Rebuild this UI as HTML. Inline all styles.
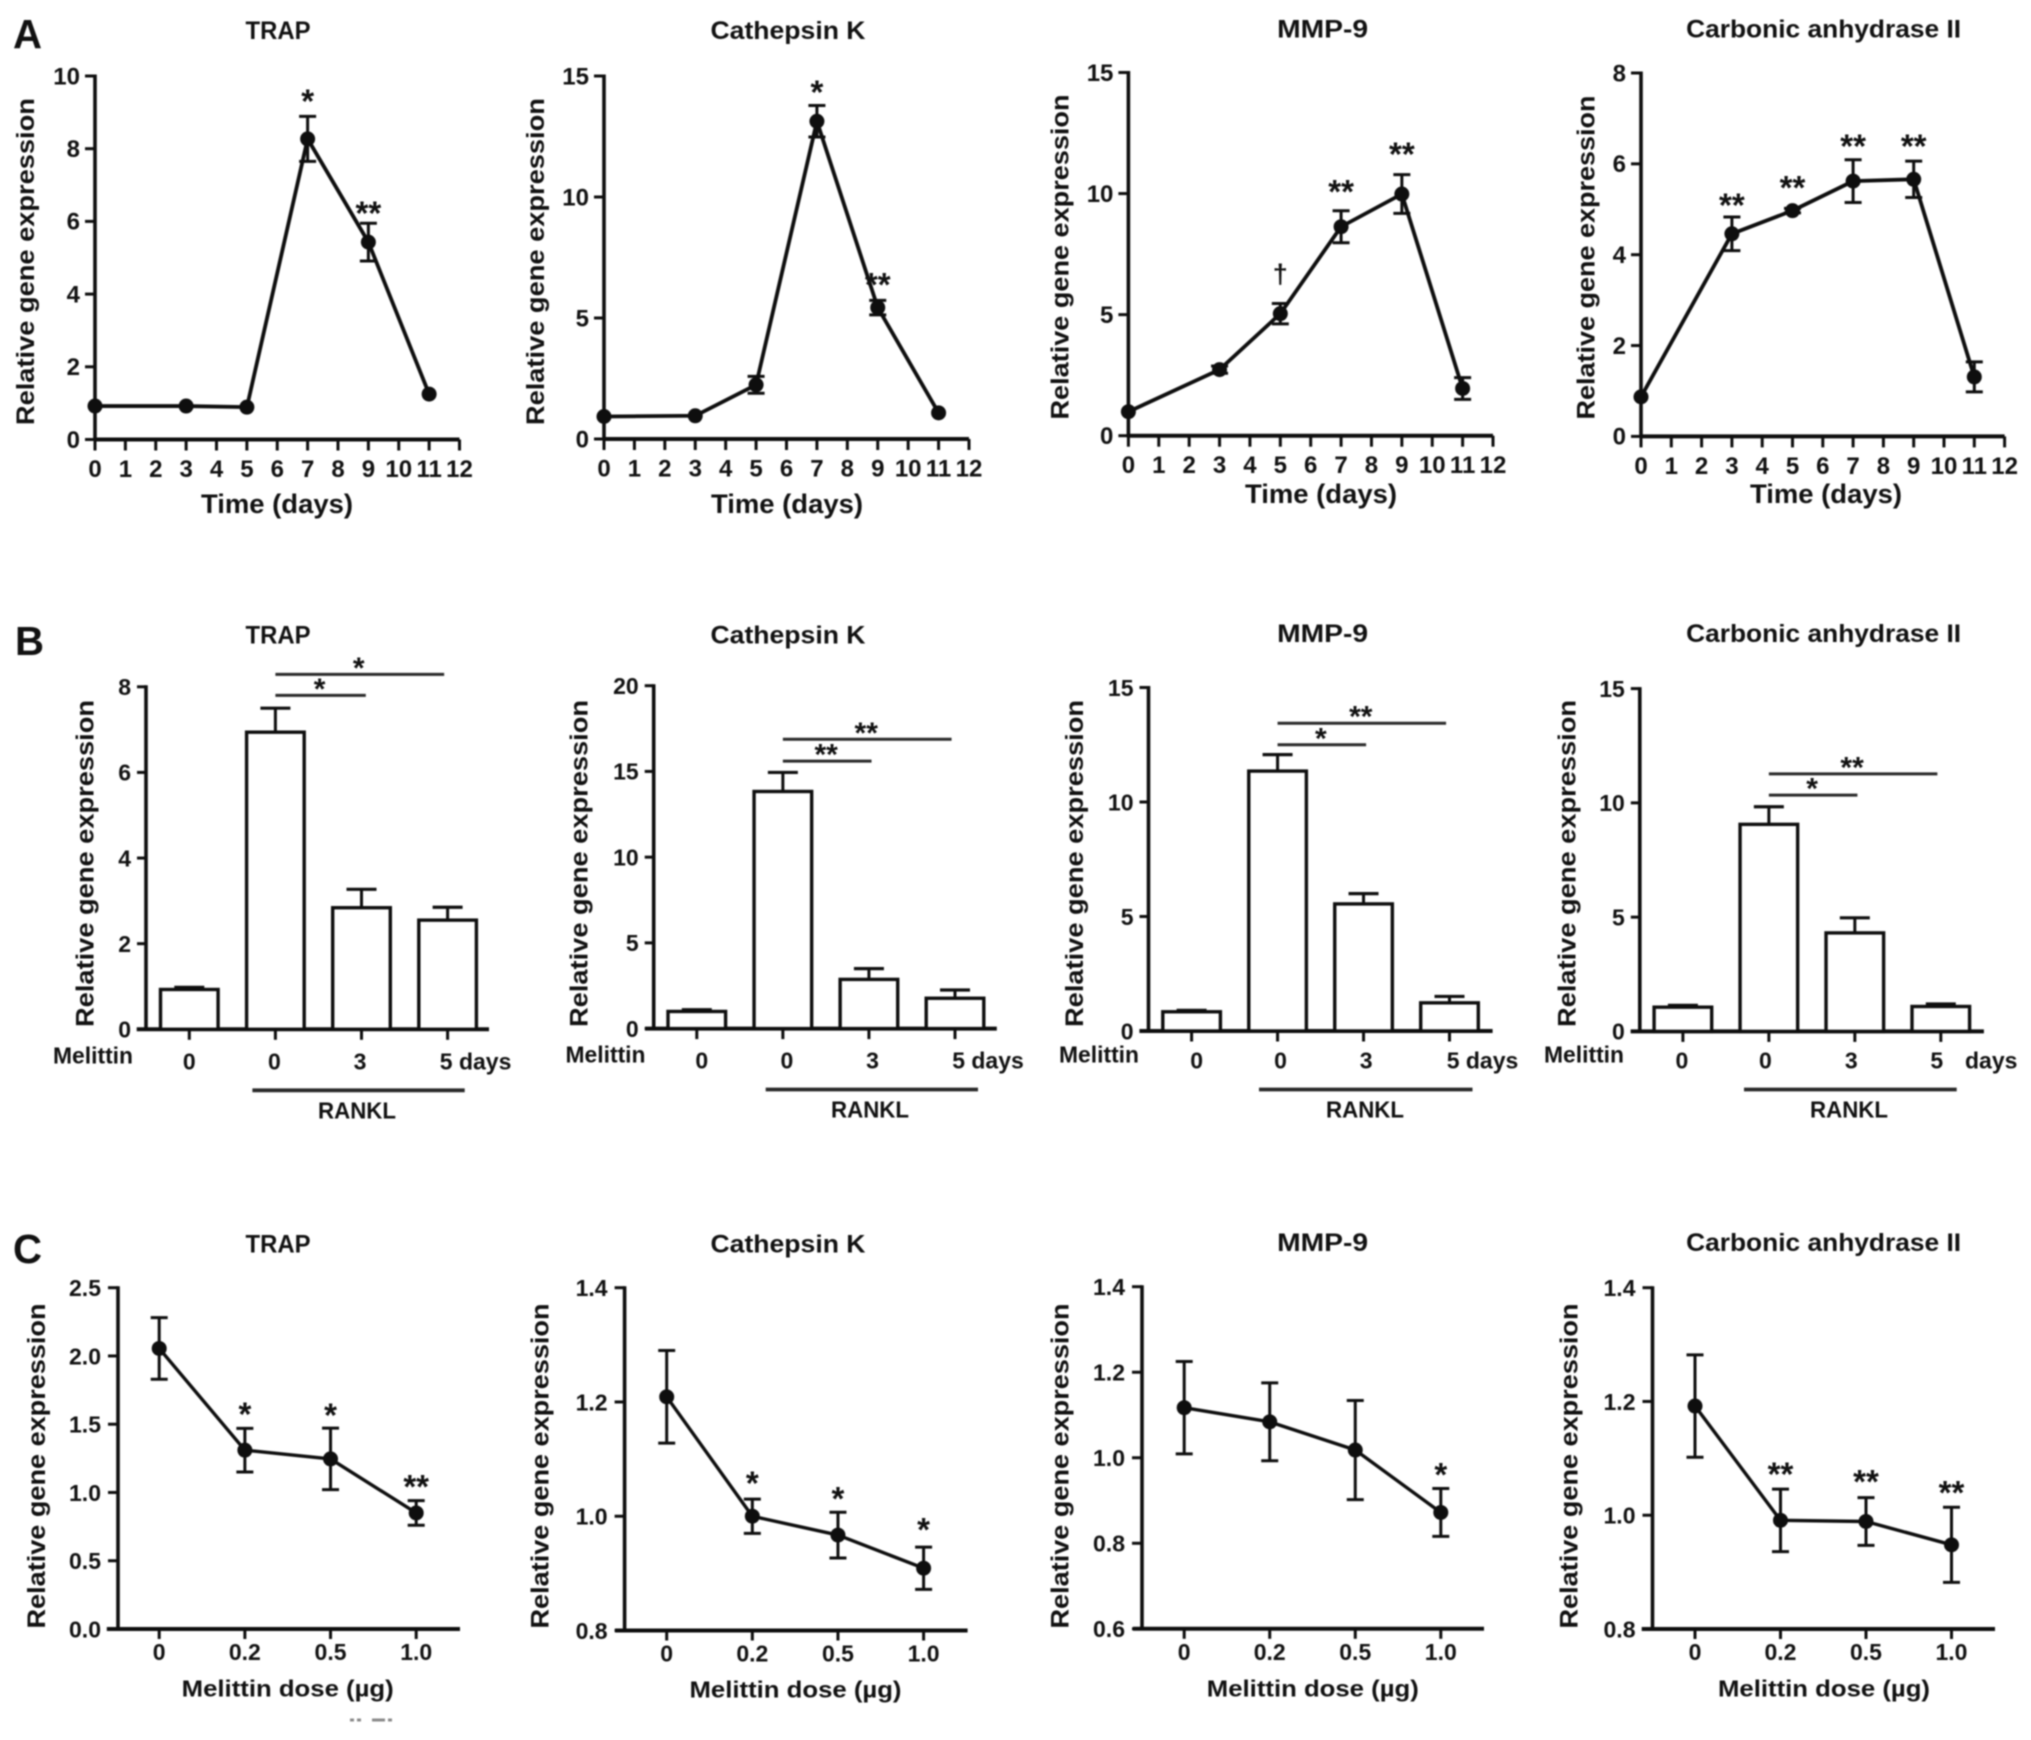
<!DOCTYPE html>
<html lang="en">
<head>
<meta charset="utf-8">
<title>Relative gene expression panels</title>
<style>
html,body{margin:0;padding:0;background:#fff;}
#figure{display:block;width:2031px;height:1740px;filter:blur(0.8px);}
text{font-family:"Liberation Sans",Arial,sans-serif;font-weight:700;fill:#111;}
</style>
</head>
<body>
<svg id="figure" xmlns="http://www.w3.org/2000/svg" width="2031" height="1740" viewBox="0 0 2031 1740"></svg>
<script>
/* ---------- Row A: time course data ---------- */
const timeDays = [0, 3, 5, 7, 9, 11];
const timeTickLabels = ['0','1','2','3','4','5','6','7','8','9','10','11','12'];

const timeTrapValues = [0.92, 0.92, 0.89, 8.27, 5.43, 1.25];
const timeTrapErrors = [0, 0, 0, 0.62, 0.52, 0];
const timeTrapTicks = ['0','2','4','6','8','10'];
const timeTrapSigIndex = [3, 4];
const timeTrapSigY = [9.43, 6.36];
const timeTrapSigLabels = ['*', '**'];

const timeCathValues = [0.93, 0.96, 2.24, 13.13, 5.43, 1.08];
const timeCathErrors = [0, 0, 0.35, 0.65, 0.3, 0];
const timeCathTicks = ['0','5','10','15'];
const timeCathSigIndex = [3, 4];
const timeCathSigY = [14.53, 6.56];
const timeCathSigLabels = ['*', '**'];

const timeMmpValues = [0.99, 2.73, 5.04, 8.63, 9.98, 1.95];
const timeMmpErrors = [0, 0.15, 0.42, 0.66, 0.8, 0.45];
const timeMmpTicks = ['0','5','10','15'];
const timeMmpSigIndex = [2, 3, 4];
const timeMmpSigY = [6.64, 10.28, 11.83];
const timeMmpSigLabels = ['\u2020', '**', '**'];

const timeCarbValues = [0.87, 4.46, 4.97, 5.62, 5.66, 1.31];
const timeCarbErrors = [0, 0.37, 0.05, 0.47, 0.4, 0.33];
const timeCarbTicks = ['0','2','4','6','8'];
const timeCarbSigIndex = [1, 2, 3, 4];
const timeCarbSigY = [5.19, 5.58, 6.49, 6.49];
const timeCarbSigLabels = ['**', '**', '**', '**'];

/* ---------- Row B: bar data ---------- */
const barTrapValues = [0.93, 6.94, 2.84, 2.55];
const barTrapErrors = [0.05, 0.56, 0.43, 0.30];
const barTrapTicks = ['0','2','4','6','8'];
const barTrapCategories = ['0','0','3','5 days'];
const barTrapSigTo = [2.05, 2.96];
const barTrapSigY = [7.8, 8.29];
const barTrapSigLabels = ['*', '*'];

const barCathValues = [1.0, 13.83, 2.87, 1.77];
const barCathErrors = [0.1, 1.11, 0.63, 0.48];
const barCathTicks = ['0','5','10','15','20'];
const barCathCategories = ['0','0','3','5 days'];
const barCathSigTo = [2.03, 2.96];
const barCathSigY = [15.6, 16.875];
const barCathSigLabels = ['**', '**'];

const barMmpValues = [0.84, 11.35, 5.55, 1.23];
const barMmpErrors = [0.06, 0.72, 0.45, 0.28];
const barMmpTicks = ['0','5','10','15'];
const barMmpCategories = ['0','0','3','5 days'];
const barMmpSigTo = [2.03, 2.96];
const barMmpSigY = [12.5, 13.44];
const barMmpSigLabels = ['*', '**'];

const barCarbValues = [1.06, 9.06, 4.31, 1.09];
const barCarbErrors = [0.08, 0.77, 0.66, 0.11];
const barCarbTicks = ['0','5','10','15'];
const barCarbCategories = ['0','0','3','5'];
const barCarbSigTo = [2.03, 2.96];
const barCarbSigY = [10.34, 11.27];
const barCarbSigLabels = ['*', '**'];

/* ---------- Row C: dose data ---------- */
const doseCategories = ['0','0.2','0.5','1.0'];

const doseTrapValues = [2.055, 1.31, 1.246, 0.85];
const doseTrapErrors = [0.226, 0.16, 0.225, 0.09];
const doseTrapTicks = ['0.0','0.5','1.0','1.5','2.0','2.5'];
const doseTrapSigIndex = [1, 2, 3];
const doseTrapSigY = [1.608, 1.6, 1.078];
const doseTrapSigLabels = ['*', '*', '**'];

const doseCathValues = [1.209, 1.0, 0.967, 0.909];
const doseCathErrors = [0.081, 0.03, 0.04, 0.037];
const doseCathTicks = ['0.8','1.0','1.2','1.4'];
const doseCathSigIndex = [1, 2, 3];
const doseCathSigY = [1.066, 1.039, 0.985];
const doseCathSigLabels = ['*', '*', '*'];

const doseMmpValues = [1.117, 1.084, 1.018, 0.872];
const doseMmpErrors = [0.108, 0.091, 0.116, 0.056];
const doseMmpTicks = ['0.6','0.8','1.0','1.2','1.4'];
const doseMmpSigIndex = [3];
const doseMmpSigY = [0.971];
const doseMmpSigLabels = ['*'];

const doseCarbValues = [1.192, 0.991, 0.989, 0.948];
const doseCarbErrors = [0.09, 0.055, 0.042, 0.066];
const doseCarbTicks = ['0.8','1.0','1.2','1.4'];
const doseCarbSigIndex = [1, 2, 3];
const doseCarbSigY = [1.08, 1.067, 1.048];
const doseCarbSigLabels = ['**', '**', '**'];

/* ---------- Drawing primitives ---------- */
const NS = 'http://www.w3.org/2000/svg';
const INK = '#0e0e0e';
const root = document.getElementById('figure');

function addLine(parent, x1, y1, x2, y2, w, color) {
  const l = document.createElementNS(NS, 'line');
  l.setAttribute('x1', x1);
  l.setAttribute('y1', y1);
  l.setAttribute('x2', x2);
  l.setAttribute('y2', y2);
  l.setAttribute('stroke', color || INK);
  l.setAttribute('stroke-width', w);
  parent.appendChild(l);
  return l;
}

function addText(parent, str, x, y, size, anchor, length, rotate) {
  const t = document.createElementNS(NS, 'text');
  t.textContent = str;
  t.setAttribute('x', x);
  t.setAttribute('y', y);
  t.setAttribute('font-size', size);
  t.setAttribute('text-anchor', anchor || 'middle');
  if (length) {
    t.setAttribute('textLength', length);
    t.setAttribute('lengthAdjust', 'spacingAndGlyphs');
  }
  if (rotate) t.setAttribute('transform', 'rotate(-90 ' + x + ' ' + y + ')');
  parent.appendChild(t);
  return t;
}

function addGroup(parent) {
  const g = document.createElementNS(NS, 'g');
  parent.appendChild(g);
  return g;
}

function linearScale(d0, d1, r0, r1) {
  return function (v) { return r0 + (v - d0) / (d1 - d0) * (r1 - r0); };
}

/* Shared frame: y axis, y ticks, x axis, titles */
function drawFrame(g, c) {
  const nums = c.yTicks.map(Number);
  const y = linearScale(nums[0], nums[nums.length - 1], c.yBottom, c.yTop);

  const yAxis = addLine(g, c.axisX, c.yTop - 1.5, c.axisX, c.yBottom + 1.5, 3.6);
  
  

  const xAxis = addLine(g, c.xAxisStart, c.yBottom, c.xAxisEnd, c.yBottom, 4);
  
  

  c.yTicks.forEach(function (label) {
    const py = y(Number(label));
    const tick = addLine(g, c.axisX - c.tickLen, py, c.axisX, py, 3);
    
    
    const tl = addText(g, label, c.axisX - c.labelGap, py + 8.3, c.tickSize, 'end');
    
    
  });

  const title = addText(g, c.title, c.titleX, c.titleY, 25, 'middle', c.titleLen);
  
  

  const yTitle = addText(g, 'Relative gene expression', c.yTitleX - 1.5, c.yTitleMid, 25, 'middle', c.yTitleLen, true);
  
  

  if (c.xTitle) {
    const xTitle = addText(g, c.xTitle, c.xTitleX, c.xTitleY, c.xTitleSize, 'middle', c.xTitleLen);
    
    
  }
  return y;
}

function drawSeries(g, c, xOf, y) {
  const pts = c.values.map(function (v, i) { return xOf(i).toFixed(2) + ',' + y(v).toFixed(2); }).join(' ');
  const poly = document.createElementNS(NS, 'polyline');
  poly.setAttribute('points', pts);
  poly.setAttribute('fill', 'none');
  poly.setAttribute('stroke', INK);
  poly.setAttribute('stroke-width', c.lineWidth);
  poly.setAttribute('stroke-linejoin', 'round');
  
  
  g.appendChild(poly);

  c.values.forEach(function (v, i) {
    const px = xOf(i);
    const e = c.errors[i];
    if (e > 0) {
      const stem = addLine(g, px, y(v + e), px, y(v - e), 3);
      
      
      const capTop = addLine(g, px - 8.5, y(v + e), px + 8.5, y(v + e), 3);
      
      
      const capBottom = addLine(g, px - 8.5, y(v - e), px + 8.5, y(v - e), 3);
      
      
    }
    const dot = document.createElementNS(NS, 'circle');
    dot.setAttribute('cx', px);
    dot.setAttribute('cy', y(v));
    dot.setAttribute('r', 7.5);
    dot.setAttribute('fill', INK);
    
    
    g.appendChild(dot);
  });

  c.sigIndex.forEach(function (idx, k) {
    const label = c.sigLabels[k];
    const isDagger = label === '\u2020';
    const size = isDagger ? 27 : 33;
    const drop = isDagger ? 8 : 16;
    const mark = addText(g, label, xOf(idx), y(c.sigY[k]) + drop, size);
    
    
  });
}

function timePanel(c) {
  const g = addGroup(root);
  
  
  c.tickLen = 10;
  c.labelGap = 15;
  c.tickSize = 24;
  c.xTitle = 'Time (days)';
  c.xTitleSize = 27;
  c.xTitleLen = 152;
  c.xAxisStart = c.axisX - 1.5;
  c.xAxisEnd = c.xEnd;
  c.lineWidth = 3.8;
  const y = drawFrame(g, c);
  const xs = linearScale(0, 12, c.axisX, c.xEnd);
  timeTickLabels.forEach(function (label) {
    const px = xs(Number(label));
    const tick = addLine(g, px, c.yBottom, px, c.yBottom + 11, 3);
    
    
    const tl = addText(g, label, px, c.yBottom + 37.5, 24);
    
    
  });
  drawSeries(g, c, function (i) { return xs(timeDays[i]); }, y);
}

function dosePanel(c) {
  const g = addGroup(root);
  
  
  c.tickLen = 10;
  c.labelGap = 17;
  c.tickSize = 23;
  c.xTitle = 'Melittin dose (\u00b5g)';
  c.xTitleSize = 23;
  c.xTitleLen = 212;
  c.lineWidth = 3.4;
  const y = drawFrame(g, c);
  const xs = linearScale(0, doseCategories.length - 1, c.firstX, c.lastX);
  doseCategories.forEach(function (label, i) {
    const tick = addLine(g, xs(i), c.yBottom, xs(i), c.yBottom + 10, 3);
    
    
    const tl = addText(g, label, xs(i), c.yBottom + 31, 23);
    
    
  });
  drawSeries(g, c, xs, y);
}

function barPanel(c) {
  const g = addGroup(root);
  
  
  c.tickLen = 9;
  c.labelGap = 15;
  c.tickSize = 23;
  const y = drawFrame(g, c);
  const xs = linearScale(0, c.values.length - 1, c.firstX, c.lastX);
  const halfBar = 28.8;

  c.values.forEach(function (v, i) {
    const px = xs(i);
    const e = c.errors[i];
    const stem = addLine(g, px, y(v + e), px, y(v), 3);
    
    
    const cap = addLine(g, px - 15, y(v + e), px + 15, y(v + e), 3.2);
    
    

    const bar = document.createElementNS(NS, 'rect');
    bar.setAttribute('x', px - halfBar);
    bar.setAttribute('y', y(v));
    bar.setAttribute('width', halfBar * 2);
    bar.setAttribute('height', c.yBottom - y(v));
    bar.setAttribute('fill', '#fff');
    bar.setAttribute('stroke', INK);
    bar.setAttribute('stroke-width', 3.4);
    
    
    g.appendChild(bar);

    const tick = addLine(g, px, c.yBottom, px, c.yBottom + 10.5, 3);
    
    

    const label = addText(g, c.categories[i], px + c.labelDx[i], c.labelY, 23);
    
    
  });

  c.sigTo.forEach(function (to, k) {
    const py = y(c.sigY[k]);
    const x2 = xs(to);
    const rule = addLine(g, xs(1), py, x2, py, 3, '#2a2a2a');
    
    
    const mark = addText(g, c.sigLabels[k], (xs(1) + x2) / 2 - 1, py + 3.5, 30);
    
    
  });

  const melittin = addText(g, 'Melittin', c.melittinX, c.labelY - 6, 23, 'middle', 80);
  
  

  const ruleRankl = addLine(g, c.rankX1, c.labelY + 21, c.rankX2, c.labelY + 21, 3.8, '#2a2a2a');
  
  
  const rankl = addText(g, 'RANKL', c.rankTextX, c.labelY + 49, 23, 'middle', 78);
  
  

  if (c.unitX) {
    const unit = addText(g, 'days', c.unitX, c.labelY, 23, 'start');
    
    
  }
}

/* ---------- Panel letters ---------- */
[['A', 13, 48], ['B', 15, 655], ['C', 13, 1263]].forEach(function (p) {
  const letter = addText(root, p[0], p[1], p[2], 41, 'start', 29);
  
  
});

/* ---------- Row A ---------- */
timePanel({name:'time-trap-chart', title:'TRAP', titleX:278, titleY:39, titleLen:65,
  axisX:95, xEnd:459.5, yTop:76, yBottom:439.5, yTicks:timeTrapTicks,
  yTitleX:35.6, yTitleMid:261.6, yTitleLen:327, xTitleX:277, xTitleY:513,
  values:timeTrapValues, errors:timeTrapErrors, sigIndex:timeTrapSigIndex, sigY:timeTrapSigY, sigLabels:timeTrapSigLabels});
timePanel({name:'time-cathepsin-chart', title:'Cathepsin K', titleX:788, titleY:39, titleLen:155,
  axisX:604, xEnd:969, yTop:76, yBottom:439, yTicks:timeCathTicks,
  yTitleX:545.6, yTitleMid:261.6, yTitleLen:327, xTitleX:787, xTitleY:513,
  values:timeCathValues, errors:timeCathErrors, sigIndex:timeCathSigIndex, sigY:timeCathSigY, sigLabels:timeCathSigLabels});
timePanel({name:'time-mmp9-chart', title:'MMP-9', titleX:1322.6, titleY:37.5, titleLen:91,
  axisX:1128.4, xEnd:1493, yTop:72.5, yBottom:435.7, yTicks:timeMmpTicks,
  yTitleX:1070, yTitleMid:257, yTitleLen:325, xTitleX:1321, xTitleY:503,
  values:timeMmpValues, errors:timeMmpErrors, sigIndex:timeMmpSigIndex, sigY:timeMmpSigY, sigLabels:timeMmpSigLabels});
timePanel({name:'time-carbonic-chart', title:'Carbonic anhydrase II', titleX:1823.6, titleY:37.5, titleLen:275,
  axisX:1641, xEnd:2004.6, yTop:73, yBottom:436.4, yTicks:timeCarbTicks,
  yTitleX:1596, yTitleMid:257.5, yTitleLen:324, xTitleX:1826, xTitleY:503,
  values:timeCarbValues, errors:timeCarbErrors, sigIndex:timeCarbSigIndex, sigY:timeCarbSigY, sigLabels:timeCarbSigLabels});

/* ---------- Row B ---------- */
barPanel({name:'bar-trap-chart', title:'TRAP', titleX:278, titleY:643.6, titleLen:65,
  axisX:146, xAxisStart:136.7, xAxisEnd:489, yTop:686.8, yBottom:1029.3, yTicks:barTrapTicks,
  yTitleX:95, yTitleMid:863.5, yTitleLen:327, firstX:189.3, lastX:447.6,
  values:barTrapValues, errors:barTrapErrors, categories:barTrapCategories, labelDx:[0,-1,-1.5,28], labelY:1069.3,
  sigTo:barTrapSigTo, sigY:barTrapSigY, sigLabels:barTrapSigLabels,
  melittinX:93, rankX1:252.4, rankX2:464.7, rankTextX:357});
barPanel({name:'bar-cathepsin-chart', title:'Cathepsin K', titleX:788, titleY:643.6, titleLen:155,
  axisX:653.7, xAxisStart:645, xAxisEnd:996.8, yTop:685.7, yBottom:1028.6, yTicks:barCathTicks,
  yTitleX:589, yTitleMid:863.5, yTitleLen:327, firstX:696.8, lastX:955,
  values:barCathValues, errors:barCathErrors, categories:barCathCategories, labelDx:[5,4,3.6,33], labelY:1068.5,
  sigTo:barCathSigTo, sigY:barCathSigY, sigLabels:barCathSigLabels,
  melittinX:605.5, rankX1:765.7, rankX2:978, rankTextX:870});
barPanel({name:'bar-mmp9-chart', title:'MMP-9', titleX:1322.6, titleY:642, titleLen:91,
  axisX:1148.5, xAxisStart:1139.4, xAxisEnd:1492.6, yTop:687.5, yBottom:1031, yTicks:barMmpTicks,
  yTitleX:1084.3, yTitleMid:863.5, yTitleLen:327, firstX:1191.6, lastX:1449.5,
  values:barMmpValues, errors:barMmpErrors, categories:barMmpCategories, labelDx:[5,3,2.6,33], labelY:1068.5,
  sigTo:barMmpSigTo, sigY:barMmpSigY, sigLabels:barMmpSigLabels,
  melittinX:1099, rankX1:1259, rankX2:1472.5, rankTextX:1365});
barPanel({name:'bar-carbonic-chart', title:'Carbonic anhydrase II', titleX:1823.6, titleY:642, titleLen:275,
  axisX:1639.8, xAxisStart:1630.7, xAxisEnd:1983.9, yTop:688.6, yBottom:1031.4, yTicks:barCarbTicks,
  yTitleX:1577, yTitleMid:863.5, yTitleLen:327, firstX:1682.9, lastX:1940.8,
  values:barCarbValues, errors:barCarbErrors, categories:barCarbCategories, labelDx:[-1,-3.5,-3.5,-4], labelY:1068.5,
  sigTo:barCarbSigTo, sigY:barCarbSigY, sigLabels:barCarbSigLabels,
  melittinX:1584, rankX1:1744, rankX2:1956.7, rankTextX:1849, unitX:1965});

/* ---------- Row C ---------- */
dosePanel({name:'dose-trap-chart', title:'TRAP', titleX:278, titleY:1252.3, titleLen:65,
  axisX:118, xAxisStart:106.8, xAxisEnd:460, yTop:1287.7, yBottom:1629, yTicks:doseTrapTicks,
  yTitleX:46.6, yTitleMid:1466, yTitleLen:325, xTitleX:287.7, xTitleY:1696.7, firstX:159.2, lastX:416.2,
  values:doseTrapValues, errors:doseTrapErrors, sigIndex:doseTrapSigIndex, sigY:doseTrapSigY, sigLabels:doseTrapSigLabels});
dosePanel({name:'dose-cathepsin-chart', title:'Cathepsin K', titleX:788, titleY:1252.3, titleLen:155,
  axisX:624.6, xAxisStart:615, xAxisEnd:967.6, yTop:1287.7, yBottom:1630.5, yTicks:doseCathTicks,
  yTitleX:550, yTitleMid:1466, yTitleLen:325, xTitleX:795.5, xTitleY:1697.3, firstX:666.7, lastX:923.6,
  values:doseCathValues, errors:doseCathErrors, sigIndex:doseCathSigIndex, sigY:doseCathSigY, sigLabels:doseCathSigLabels});
dosePanel({name:'dose-mmp9-chart', title:'MMP-9', titleX:1322.6, titleY:1251, titleLen:91,
  axisX:1142, xAxisStart:1133, xAxisEnd:1484, yTop:1286.7, yBottom:1628.8, yTicks:doseMmpTicks,
  yTitleX:1070, yTitleMid:1466, yTitleLen:325, xTitleX:1312.8, xTitleY:1696.7, firstX:1184.2, lastX:1440.8,
  values:doseMmpValues, errors:doseMmpErrors, sigIndex:doseMmpSigIndex, sigY:doseMmpSigY, sigLabels:doseMmpSigLabels});
dosePanel({name:'dose-carbonic-chart', title:'Carbonic anhydrase II', titleX:1823.6, titleY:1251, titleLen:275,
  axisX:1652.5, xAxisStart:1641.7, xAxisEnd:1995, yTop:1287.7, yBottom:1629, yTicks:doseCarbTicks,
  yTitleX:1579, yTitleMid:1466, yTitleLen:325, xTitleX:1824, xTitleY:1696.7, firstX:1695, lastX:1951.5,
  values:doseCarbValues, errors:doseCarbErrors, sigIndex:doseCarbSigIndex, sigY:doseCarbSigY, sigLabels:doseCarbSigLabels});

/* ---------- Cropped text remnant at the bottom edge ---------- */
const remnant = addLine(root, 350, 1720, 392, 1720, 3, '#8a8a8a');
remnant.setAttribute('stroke-dasharray', '4 3 4 11 13 3 4');


</script>
</body>
</html>
